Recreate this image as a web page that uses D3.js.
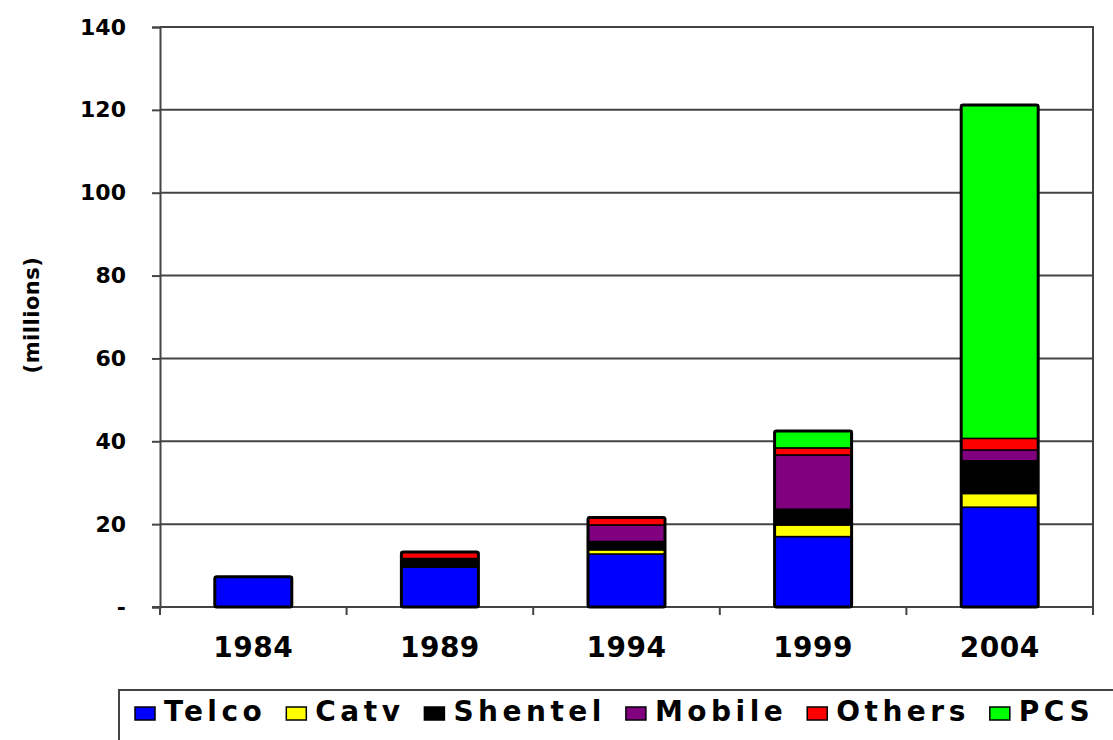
<!DOCTYPE html>
<html>
<head>
<meta charset="utf-8">
<script src="https://cdn.jsdelivr.net/npm/d3@7"></script>
<style>
  html, body { margin: 0; padding: 0; background: #fff; overflow: hidden; }
  text { font-family: "DejaVu Sans", Verdana, sans-serif; font-weight: bold; fill: #000; }
</style>
</head>
<body>
<script>
'use strict';

const width = 1113, height = 740;

// data (millions)
const years = ['1984', '1989', '1994', '1999', '2004'];
const seriesNames = ['Telco', 'Catv', 'Shentel', 'Mobile', 'Others', 'PCS'];
const seriesColors = ['#0000ff', '#ffff00', '#000000', '#800080', '#ff0000', '#00ff00'];
const telco   = [7.3, 9.6, 12.8, 17.0, 24.1];
const catv    = [0, 0, 1.0, 2.8, 3.3];
const shentel = [0, 2.1, 2.0, 3.8, 7.9];
const mobile  = [0, 0, 4.0, 13.1, 2.6];
const others  = [0, 1.6, 1.8, 1.7, 2.8];
const pcs     = [0, 0, 0, 4.1, 80.5];
const yTicks = [0, 20, 40, 60, 80, 100, 120, 140];

const seriesValues = [telco, catv, shentel, mobile, others, pcs];
const table = years.map((yr, i) => {
  let row = { year: yr };
  seriesNames.forEach((s, k) => row[s] = seriesValues[k][i]);
  return row;
});
const stacked = d3.stack().keys(seriesNames)(table);

const plotLeft = 160, plotRight = 1093, plotTop = 27, plotBottom = 607;

let svg = d3.select('body').append('svg')
  .attr('width', width)
  .attr('height', height);

let x = d3.scalePoint().domain(years).range([plotLeft, plotRight]).padding(0.5);
let y = d3.scaleLinear().domain([0, 140]).range([plotBottom, plotTop]);
let color = d3.scaleOrdinal().domain(seriesNames).range(seriesColors);
const barW = 77;

// gridlines
svg.append('g')
  .selectAll('line')
  .data(yTicks.filter(t => t > 0))
  .join('line')
  .attr('x1', plotLeft).attr('x2', plotRight)
  .attr('y1', d => y(d)).attr('y2', d => y(d))
  .attr('stroke', '#444').attr('stroke-width', 2);

// right border of plot
svg.append('line')
  .attr('x1', plotRight).attr('x2', plotRight)
  .attr('y1', plotTop - 1).attr('y2', plotBottom)
  .attr('stroke', '#444').attr('stroke-width', 2);

// y axis
let yAxis = svg.append('g')
  .attr('transform', `translate(${plotLeft},0)`)
  .call(d3.axisLeft(y).tickValues(yTicks).tickSize(8).tickPadding(26)
    .tickFormat(d => d === 0 ? '-' : d));
yAxis.select('.domain').attr('stroke', '#444').attr('stroke-width', 2);
yAxis.selectAll('.tick line').attr('stroke', '#444').attr('stroke-width', 2);
yAxis.selectAll('.tick text')
  .style('font-family', '"DejaVu Sans", Verdana, sans-serif')
  .style('font-weight', 'bold')
  .style('font-size', '22px')
  .attr('fill', '#000');

// x axis (ticks at category boundaries)
const step = x.step();
let bounds = d3.range(years.length + 1).map(i => plotLeft + i * step);
svg.append('line')
  .attr('x1', plotLeft - 8).attr('x2', plotRight)
  .attr('y1', plotBottom).attr('y2', plotBottom)
  .attr('stroke', '#444').attr('stroke-width', 2);
svg.append('g')
  .selectAll('line')
  .data(bounds)
  .join('line')
  .attr('x1', d => d).attr('x2', d => d)
  .attr('y1', plotBottom).attr('y2', plotBottom + 8)
  .attr('stroke', '#444').attr('stroke-width', 2);
svg.append('g')
  .selectAll('text')
  .data(years)
  .join('text')
  .attr('x', d => x(d))
  .attr('y', 657)
  .attr('text-anchor', 'middle')
  .style('font-size', '28px')
  .style('letter-spacing', '0.5px')
  .text(d => d);

// y axis title
svg.append('text')
  .attr('transform', 'translate(39,315) rotate(-90)')
  .attr('text-anchor', 'middle')
  .style('font-size', '21px')
  .style('letter-spacing', '0.5px')
  .text('(millions)');

// stacked bars
let barG = svg.append('g');
barG.selectAll('g')
  .data(stacked)
  .join('g')
  .attr('fill', d => color(d.key))
  .selectAll('rect')
  .data(d => d.filter(s => s[1] - s[0] > 0))
  .join('rect')
  .attr('x', d => x(d.data.year) - barW / 2)
  .attr('width', barW)
  .attr('y', d => y(d[1]))
  .attr('height', d => y(d[0]) - y(d[1]))
  .attr('stroke', '#000')
  .attr('stroke-width', 1.5);

// outer outline of each bar
barG.selectAll('.outline')
  .data(table)
  .join('rect')
  .attr('class', 'outline')
  .attr('x', d => x(d.year) - barW / 2)
  .attr('width', barW)
  .attr('y', d => y(d3.sum(seriesNames, s => d[s])))
  .attr('height', d => plotBottom - y(d3.sum(seriesNames, s => d[s])))
  .attr('fill', 'none')
  .attr('stroke', '#000')
  .attr('stroke-width', 3)
  .attr('rx', 2);

// legend
let legend = svg.append('g');
legend.append('rect')
  .attr('x', 119).attr('y', 690)
  .attr('width', 1100).attr('height', 100)
  .attr('fill', '#fff')
  .attr('stroke', '#444').attr('stroke-width', 2);

let lx = 135;
seriesNames.forEach((s, k) => {
  legend.append('rect')
    .attr('x', lx).attr('y', 707)
    .attr('width', 20).attr('height', 13)
    .attr('fill', color(s))
    .attr('stroke', '#000').attr('stroke-width', 1.5);
  let t = legend.append('text')
    .attr('x', lx + 29).attr('y', 721)
    .style('font-size', '28px')
    .style('letter-spacing', '4.5px')
    .text(s);
  lx += 29 + t.node().getComputedTextLength() + 20;
});
</script>
</body>
</html>
